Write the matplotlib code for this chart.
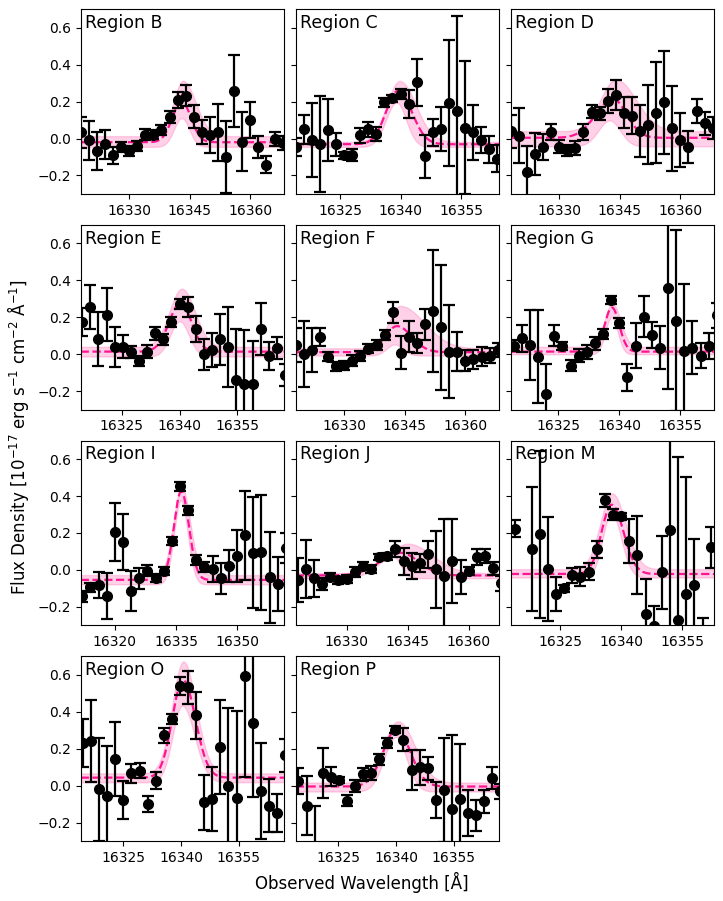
import numpy as np
import matplotlib.pyplot as plt

# regions in panel order (last grid slot stays empty)
regions = ["B", "C", "D", "E", "F", "G", "I", "J", "M", "O", "P"]

# wavelength grid of each region: first pixel and pixel step [A]
wl_start = {"B": 16318, "C": 16314, "D": 16318, "E": 16314.8, "F": 16318, "G": 16314,
            "I": 16312, "J": 16318, "M": 16314, "O": 16314.5, "P": 16314.6}
wl_step = {"B": 2.0, "C": 2.0, "D": 2.0, "E": 2.1, "F": 2.0, "G": 2.0,
           "I": 2.0, "J": 2.0, "M": 2.0, "O": 2.1, "P": 2.1}

flux_B = [0.033, -0.009, -0.067, -0.031, -0.091, -0.045, -0.067, -0.04, 0.02, 0.02, 0.045, 0.118, 0.209,
          0.233, 0.118, 0.035, 0.018, 0.033, -0.1, 0.258, -0.018, 0.1, -0.047, -0.142, -0.002, -0.024]
err_B = [0.085, 0.105, 0.105, 0.078, 0.047, 0.027, 0.025, 0.027, 0.029, 0.024, 0.026, 0.032, 0.044,
         0.057, 0.061, 0.065, 0.098, 0.152, 0.194, 0.197, 0.16, 0.097, 0.059, 0.046, 0.04, 0.04]

flux_C = [-0.045, 0.051, -0.009, -0.027, 0.045, -0.031, -0.091, -0.091, 0.018, 0.049, 0.022, 0.196, 0.218,
          0.24, 0.187, 0.304, -0.096, 0.035, 0.051, 0.191, 0.151, 0.058, 0.033, -0.009, -0.058, -0.109]
err_C = [0.05, 0.078, 0.2, 0.26, 0.168, 0.063, 0.02, 0.032, 0.041, 0.04, 0.038, 0.023, 0.018,
         0.027, 0.077, 0.127, 0.115, 0.073, 0.12, 0.34, 0.51, 0.36, 0.15, 0.07, 0.073, 0.073]

flux_D = [0.04, 0.016, -0.182, -0.082, -0.045, 0.035, -0.045, -0.064, -0.049, 0.036, 0.145, 0.136, 0.204,
          0.236, 0.14, 0.124, 0.042, 0.076, 0.14, 0.196, 0.055, -0.009, -0.045, 0.149, 0.082, 0.058]
err_D = [0.09, 0.15, 0.14, 0.114, 0.07, 0.042, 0.035, 0.03, 0.038, 0.042, 0.036, 0.035, 0.064,
         0.082, 0.085, 0.1, 0.14, 0.216, 0.275, 0.28, 0.23, 0.145, 0.088, 0.067, 0.064, 0.058]

flux_E = [0.176, 0.256, 0.082, 0.215, 0.038, 0.041, 0.011, -0.039, 0.014, 0.113, 0.081, 0.176, 0.274,
          0.256, 0.136, 0.0, 0.023, 0.081, 0.038, -0.142, -0.16, -0.16, 0.136, -0.009, 0.032, -0.111]
err_E = [0.075, 0.12, 0.148, 0.146, 0.108, 0.062, 0.032, 0.027, 0.036, 0.034, 0.031, 0.027, 0.027,
         0.054, 0.071, 0.085, 0.093, 0.137, 0.217, 0.28, 0.29, 0.23, 0.139, 0.075, 0.06, 0.06]

flux_F = [0.05, 0.002, 0.023, 0.095, -0.013, -0.066, -0.061, -0.036, -0.009, 0.029, 0.05, 0.104, 0.226,
          0.009, 0.095, 0.063, 0.161, 0.233, 0.145, 0.014, 0.014, -0.034, -0.027, -0.013, -0.007, 0.023]
err_F = [0.09, 0.177, 0.117, 0.048, 0.024, 0.024, 0.027, 0.03, 0.029, 0.024, 0.025, 0.027, 0.056,
         0.09, 0.083, 0.054, 0.082, 0.33, 0.34, 0.25, 0.107, 0.055, 0.052, 0.05, 0.043, 0.036]

flux_G = [0.045, 0.086, 0.05, -0.013, -0.213, 0.1, 0.045, -0.063, -0.007, 0.014, 0.059, 0.108, 0.292,
          0.167, -0.125, 0.047, 0.203, 0.104, 0.036, 0.36, 0.181, 0.02, 0.036, -0.007, 0.045, 0.21]
err_G = [0.03, 0.072, 0.19, 0.25, 0.16, 0.058, 0.02, 0.03, 0.035, 0.038, 0.036, 0.027, 0.022,
         0.027, 0.072, 0.122, 0.112, 0.07, 0.115, 0.55, 0.49, 0.36, 0.145, 0.067, 0.072, 0.07]

flux_I = [-0.143, -0.095, -0.081, -0.143, 0.206, 0.152, -0.116, -0.045, -0.004, -0.045, -0.004, 0.156, 0.452,
          0.323, 0.054, 0.018, 0.005, -0.045, 0.022, 0.077, 0.188, 0.093, 0.095, -0.041, -0.077, 0.12]
err_I = [0.03, 0.023, 0.072, 0.125, 0.156, 0.152, 0.108, 0.057, 0.029, 0.022, 0.022, 0.022, 0.024,
         0.023, 0.027, 0.027, 0.07, 0.083, 0.088, 0.14, 0.24, 0.3, 0.31, 0.245, 0.148, 0.08]

flux_J = [-0.054, 0.004, -0.045, -0.077, -0.036, -0.057, -0.048, -0.009, 0.023, 0.004, 0.07, 0.073, 0.113,
          0.048, 0.02, 0.038, 0.084, 0.004, -0.032, 0.048, -0.041, -0.004, 0.07, 0.075, 0.009, -0.072]
err_J = [0.12, 0.157, 0.1, 0.033, 0.018, 0.018, 0.022, 0.027, 0.022, 0.02, 0.015, 0.018, 0.042,
         0.073, 0.069, 0.047, 0.072, 0.208, 0.31, 0.226, 0.092, 0.022, 0.041, 0.04, 0.036, 0.04]

# M has one pixel outside the plotted range (no data drawn)
flux_M = [0.224, np.nan, 0.111, 0.192, 0.005, -0.129, -0.099, -0.03, -0.036, -0.009, 0.111, 0.376, 0.299,
          0.29, 0.156, 0.081, -0.237, -0.305, -0.014, 0.215, -0.269, -0.131, -0.081, -0.45, 0.122]
err_M = [0.045, np.nan, 0.336, 0.45, 0.28, 0.092, 0.018, 0.04, 0.052, 0.045, 0.047, 0.036, 0.03,
         0.018, 0.117, 0.21, 0.19, 0.11, 0.195, 0.7, 0.878, 0.636, 0.25, 0.19, 0.112]

flux_O = [0.228, 0.242, -0.02, -0.054, 0.143, -0.077, 0.066, 0.081, -0.099, 0.027, 0.272, 0.362, 0.541,
          0.532, 0.38, -0.091, -0.073, 0.21, -0.002, -0.068, 0.595, 0.339, -0.029, -0.109, -0.149, 0.165]
err_O = [0.13, 0.224, 0.28, 0.27, 0.2, 0.103, 0.052, 0.039, 0.045, 0.044, 0.04, 0.027, 0.049,
         0.09, 0.128, 0.15, 0.172, 0.254, 0.42, 0.47, 0.55, 0.4, 0.26, 0.143, 0.104, 0.09]

flux_P = [0.025, -0.108, -0.36, 0.07, 0.048, 0.03, -0.082, -0.002, 0.061, 0.066, 0.143, 0.231, 0.303,
          0.249, 0.084, 0.099, 0.093, -0.077, -0.023, -0.125, -0.073, -0.149, -0.161, -0.086, 0.039, -0.03]
err_P = [0.068, 0.16, 0.25, 0.136, 0.051, 0.018, 0.03, 0.033, 0.035, 0.038, 0.03, 0.025, 0.02,
         0.061, 0.108, 0.094, 0.061, 0.099, 0.28, 0.4, 0.3, 0.123, 0.085, 0.06, 0.06, 0.04]

flux = {"B": flux_B, "C": flux_C, "D": flux_D, "E": flux_E, "F": flux_F, "G": flux_G,
        "I": flux_I, "J": flux_J, "M": flux_M, "O": flux_O, "P": flux_P}
err = {"B": err_B, "C": err_C, "D": err_D, "E": err_E, "F": err_F, "G": err_G,
       "I": err_I, "J": err_J, "M": err_M, "O": err_O, "P": err_P}

# line fits: (continuum, amplitude, centre, sigma blue side, sigma red side)
fit_best = {"B": (-0.02, 0.22, 16343.0, 2.3, 2.3), "C": (-0.031, 0.29, 16339.4, 3.0, 3.4),
            "D": (0.004, 0.21, 16343.3, 4.2, 3.4), "E": (0.014, 0.264, 16340.3, 3.0, 2.8),
            "F": (0.011, 0.141, 16343.1, 3.0, 3.6), "G": (0.014, 0.239, 16338.2, 1.8, 1.8),
            "I": (-0.054, 0.48, 16336.3, 1.8, 1.9), "J": (-0.03, 0.123, 16343.2, 5.0, 4.5),
            "M": (-0.022, 0.375, 16337.7, 2.5, 2.9), "O": (0.043, 0.529, 16340.5, 2.8, 3.2),
            "P": (-0.005, 0.308, 16340.1, 3.5, 3.6)}
fit_hi = {"B": (0.013, 0.30, 16343.3, 2.3, 3.2), "C": (-0.018, 0.33, 16339.8, 3.2, 4.0),
          "D": (0.04, 0.28, 16344.0, 3.8, 5.0), "E": (0.04, 0.315, 16340.6, 3.2, 3.4),
          "F": (0.032, 0.23, 16343.8, 2.8, 6.0), "G": (0.04, 0.235, 16338.3, 1.9, 2.0),
          "I": (-0.028, 0.475, 16336.4, 2.0, 2.1), "J": (-0.018, 0.16, 16345.0, 5.0, 6.0),
          "M": (0.004, 0.41, 16337.8, 2.9, 3.3), "O": (0.066, 0.606, 16340.6, 2.9, 3.3),
          "P": (0.016, 0.332, 16340.5, 3.7, 4.3)}
fit_lo = {"B": (-0.045, 0.155, 16343.0, 1.9, 1.9), "C": (-0.045, 0.24, 16339.0, 2.6, 2.4),
          "D": (-0.042, 0.14, 16342.5, 2.8, 2.6), "E": (-0.012, 0.19, 16340.0, 2.4, 2.4),
          "F": (-0.007, 0.06, 16342.5, 2.0, 2.0), "G": (0.0, 0.2, 16338.1, 1.5, 1.5),
          "I": (-0.078, 0.455, 16336.2, 1.65, 1.7), "J": (-0.045, 0.115, 16341.5, 4.0, 1.8),
          "M": (-0.041, 0.35, 16337.6, 2.1, 2.4), "O": (0.018, 0.415, 16340.3, 2.5, 3.2),
          "P": (-0.032, 0.295, 16339.9, 3.0, 2.8)}

xrange_ = {"B": (16318, 16368.4), "C": (16314, 16364.5), "D": (16318, 16368.4), "E": (16314.4, 16367.1),
           "F": (16318, 16368.4), "G": (16313.3, 16363.4), "I": (16311.6, 16361.6), "J": (16317.5, 16367.5),
           "M": (16312.9, 16362.9), "O": (16313.9, 16366.8), "P": (16313.9, 16366.8)}
xticks_ = {"B": [16330, 16345, 16360], "C": [16325, 16340, 16355], "D": [16330, 16345, 16360],
           "E": [16325, 16340, 16355], "F": [16330, 16345, 16360], "G": [16325, 16340, 16355],
           "I": [16320, 16335, 16350], "J": [16330, 16345, 16360], "M": [16325, 16340, 16355],
           "O": [16325, 16340, 16355], "P": [16325, 16340, 16355]}
yticks_ = [-0.2, 0.0, 0.2, 0.4, 0.6]


def line_model(x, cont, amp, mu, sig_l, sig_r):
    sig = np.where(x < mu, sig_l, sig_r)
    return cont + amp * np.exp(-0.5 * ((x - mu) / sig) ** 2)


fig, axes = plt.subplots(4, 3, figsize=(7.23, 9.01), sharey=True)
plt.subplots_adjust(left=0.1116, right=0.988, top=0.9897, bottom=0.0666, wspace=0.0565, hspace=0.168)

for i, r in enumerate(regions):
    ax = axes.flat[i]
    y = np.array(flux[r], dtype=float)
    wl = wl_start[r] + wl_step[r] * np.arange(len(y))
    xx = np.linspace(xrange_[r][0], xrange_[r][1], 600)

    ax.fill_between(xx, line_model(xx, *fit_lo[r]), line_model(xx, *fit_hi[r]),
                    color='hotpink', alpha=0.3)
    ax.plot(xx, line_model(xx, *fit_best[r]), '--', color='deeppink', lw=1.6)
    ax.errorbar(wl, y, yerr=err[r], fmt='o', color='k', ms=7,
                capsize=4.5, elinewidth=1.6, capthick=1.6)

    ax.set_xlim(xrange_[r])
    ax.set_ylim(-0.3, 0.7)
    ax.set_xticks(xticks_[r])
    ax.set_yticks(yticks_)
    ax.tick_params(labelsize=10)
    # label sits under the data, as in the original
    ax.text(0.02, 0.975, "Region " + r, transform=ax.transAxes, ha='left', va='top',
            fontsize=12.5, zorder=1)

axes[3, 2].axis('off')

fig.text(0.025, 0.515, r'Flux Density [10$^{-17}$ erg s$^{-1}$ cm$^{-2}$ Å$^{-1}$]',
         rotation=90, ha='center', va='center', fontsize=12)
fig.text(0.5, 0.021, 'Observed Wavelength [Å]', ha='center', va='center', fontsize=12)

plt.savefig('out.png', dpi=100)
